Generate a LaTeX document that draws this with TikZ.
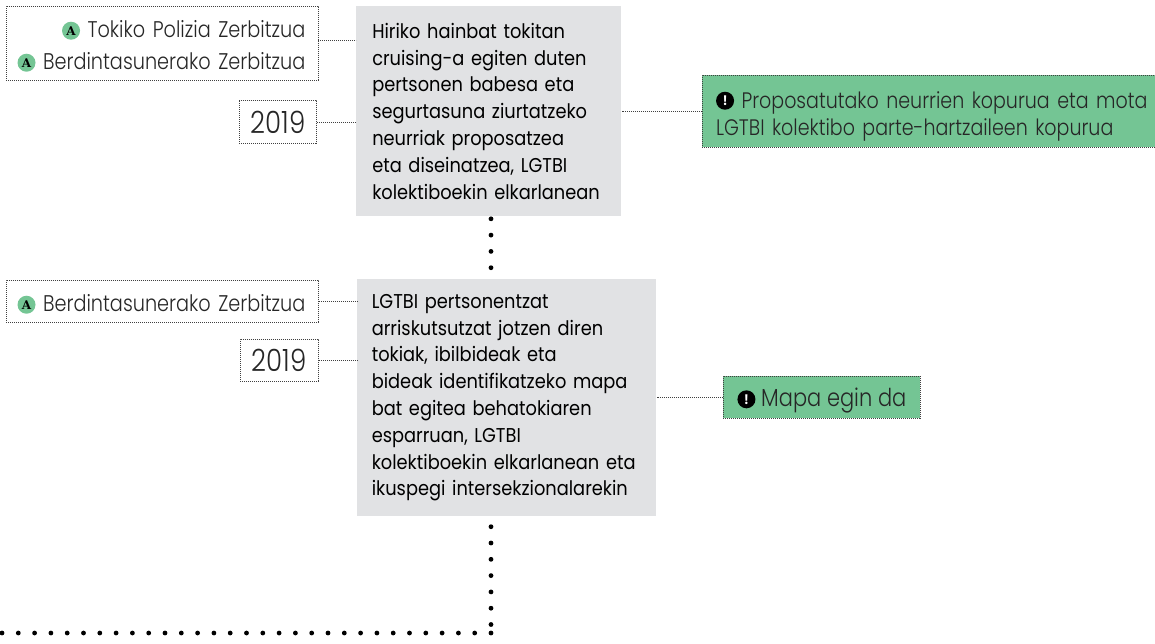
\documentclass[tikz,border=0pt]{standalone}
\usepackage{fontspec}
\setmainfont{Poppins Light}[FakeStretch=0.85]
\newfontfamily\actionfont{Poppins}[FakeStretch=0.89]
\newfontfamily\badgefont{DejaVu Serif}
\usepackage{tikz}
\usetikzlibrary{positioning}

% One pixel of the page
\def\pxu{0.75pt}

\definecolor{badgegreen}{HTML}{74C594}
\definecolor{actiongrey}{HTML}{E1E2E4}

\tikzset{
  fineline/.style={draw=black!75,line width=0.6pt,dash pattern=on 0.8pt off 0.7pt},
  ownerbox/.style={fineline,anchor=north west,inner sep=0pt,align=right,
    font=\fontsize{17pt}{24pt}\selectfont,text=black!85},
  yearbox/.style={fineline,anchor=north west,inner sep=0pt,
    font=\fontsize{23pt}{26pt}\selectfont,text=black!85},
  actionbox/.style={fill=actiongrey,anchor=north west,inner sep=0pt,align=left,
    font=\actionfont\fontsize{15pt}{20.1pt}\selectfont,text=black},
  resultbox/.style={fineline,fill=badgegreen,anchor=north west,inner sep=0pt,
    font=\fontsize{16.8pt}{20.5pt}\selectfont,text=black!85},
  bigdots/.style={line width=3.6pt,line cap=round,dash pattern=on 0pt off 16.3*\pxu},
  greenbadge/.style={circle,fill=badgegreen,inner sep=0pt,minimum size=13.5pt,
    font=\badgefont\bfseries\fontsize{9pt}{9pt}\selectfont,text=black},
  blackbadge/.style={circle,fill=black,inner sep=0pt,minimum size=13.5pt,
    font=\actionfont\bfseries\fontsize{10pt}{10pt}\selectfont,text=white},
}

\newcommand{\badgeA}{\tikz[baseline={([yshift=-2pt]ba.base)}]\node[greenbadge] (ba) {A};}
\newcommand{\badgeN}{\tikz[baseline={([yshift=-2pt]bn.base)}]\node[blackbadge] (bn) {!};}

\begin{document}
\begin{tikzpicture}[x=\pxu,y=-\pxu]
\useasboundingbox (0,0) rectangle (1155,643);

% First action
\node[actionbox,minimum width=265*\pxu,minimum height=210*\pxu,text width=233*\pxu] (action-a) at (356,6)
  {Hiriko hainbat tokitan\\cruising-a egiten duten\\pertsonen babesa eta\\segurtasuna ziurtatzeko\\neurriak proposatzea\\eta diseinatzea, LGTBI\\kolektiboekin elkarlanean};
\node[ownerbox,minimum width=312*\pxu,minimum height=74*\pxu,text width=310*\pxu] (owner-a) at (6,6)
  {\rule{0pt}{17pt}\badgeA\ Tokiko Polizia Zerbitzua\kern9pt\\\badgeA\ Berdintasunerako Zerbitzua\kern9pt};
\node[yearbox,minimum width=77*\pxu,minimum height=43*\pxu] (year-a) at (239,100) {2019};
\node[resultbox,minimum width=453*\pxu,minimum height=72*\pxu,align=left,text width=447*\pxu] (result-a) at (702,75)
  {\rule{0pt}{20pt}\hspace*{8pt}\badgeN\ Proposatutako neurrien kopurua eta mota\\\hspace*{8pt}LGTBI kolektibo parte-hartzaileen kopurua};

% Second action
\node[actionbox,minimum width=299*\pxu,minimum height=237*\pxu,text width=270*\pxu] (action-b) at (357,279)
  {LGTBI pertsonentzat\\arriskutsutzat jotzen diren\\tokiak, ibilbideak eta\\bideak identifikatzeko mapa\\bat egitea behatokiaren\\esparruan, LGTBI\\kolektiboekin elkarlanean eta\\ikuspegi intersekzionalarekin};
\node[ownerbox,minimum width=312*\pxu,minimum height=42*\pxu,text width=310*\pxu] (owner-b) at (6,280)
  {\rule{0pt}{17pt}\badgeA\ Berdintasunerako Zerbitzua\kern9pt};
\node[yearbox,minimum width=78*\pxu,minimum height=42*\pxu] (year-b) at (240,339) {2019};
\node[resultbox,minimum width=197*\pxu,minimum height=42*\pxu,font=\fontsize{18.5pt}{20.5pt}\selectfont] (result-b) at (723,376)
  {\rule{0pt}{19pt}\badgeN\ Mapa egin da};

% Thin connectors
\coordinate (owner-a-out) at (318,40);
\draw[fineline] (owner-a-out) -- (owner-a-out -| action-a.west);
\draw[fineline] (year-a.east) -- (year-a.east -| action-a.west);
\draw[fineline] (result-a.west) -- (result-a.west -| action-a.east);
\draw[fineline] (owner-b.east) -- (owner-b.east -| action-b.west);
\draw[fineline] (year-b.east) -- (year-b.east -| action-b.west);
\draw[fineline] (result-b.west) -- (result-b.west -| action-b.east);

% Dotted runs
\coordinate (run-a-start) at (491,218.8);
\coordinate (run-a-end)   at (491,268);
\coordinate (run-b-start) at (491,526.7);
\coordinate (run-b-corner) at (491,633);
\coordinate (run-b-end)   at (0,633);
\draw[bigdots] (run-a-start) -- (run-a-end);
\draw[bigdots] (run-b-start) -- (run-b-corner);
\draw[bigdots] (run-b-corner) -- (run-b-end);

\end{tikzpicture}
\end{document}
